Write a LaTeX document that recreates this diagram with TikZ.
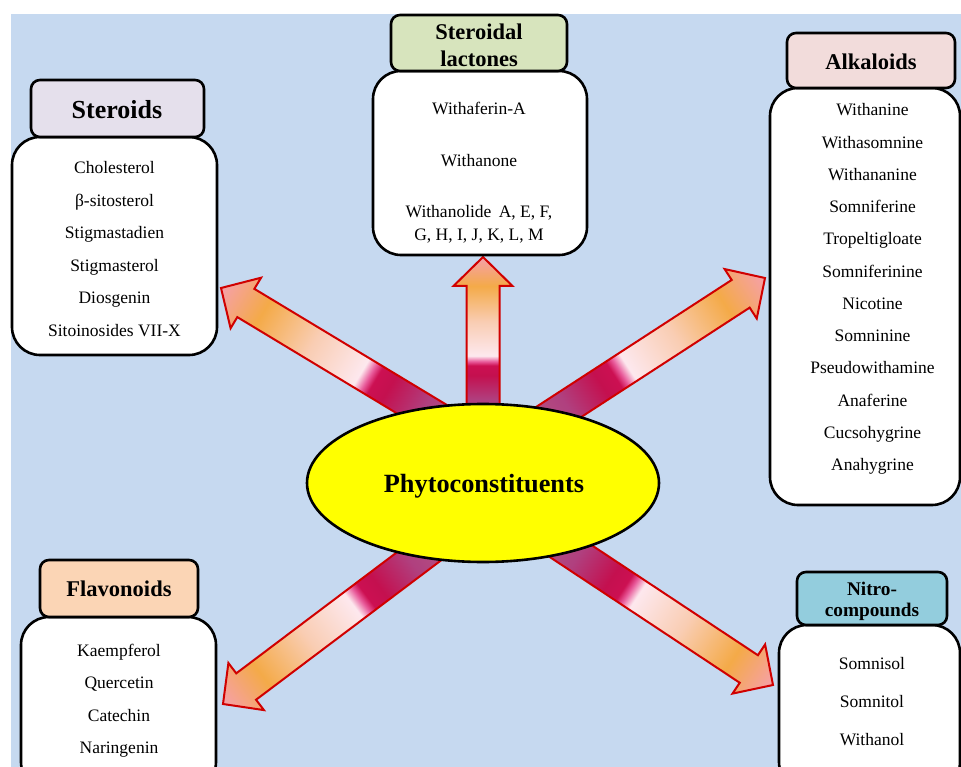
\documentclass[tikz,border=0pt]{standalone}
\usepackage{fontspec}
\setmainfont{Liberation Serif}
\usetikzlibrary{shapes.geometric}
\definecolor{bgblue}{HTML}{C6D9F0}
\definecolor{hdlav}{HTML}{E5E0EC}
\definecolor{hdgreen}{HTML}{D7E4BD}
\definecolor{hdpink}{HTML}{F2DCDB}
\definecolor{hdpeach}{HTML}{FBD5B5}
\definecolor{hdaqua}{HTML}{93CDDD}
\definecolor{ellyellow}{RGB}{255,255,0}
\definecolor{arrowred}{RGB}{208,0,0}
\definecolor{gpurple}{RGB}{178,80,130}
\definecolor{gpurple2}{RGB}{176,64,127}
\definecolor{gcrimson}{RGB}{196,16,79}
\definecolor{gcrimsonb}{RGB}{204,16,82}
\definecolor{gmagenta}{RGB}{232,90,154}
\definecolor{gwhite}{RGB}{253,232,238}
\definecolor{gpeach}{RGB}{249,205,179}
\definecolor{gorange}{RGB}{244,170,72}
\definecolor{gpink}{RGB}{245,160,170}
\pgfdeclarehorizontalshading{arrowgrad}{100bp}{color(0bp)=(gpurple); color(25bp)=(gpurple); color(31bp)=(gpurple2); color(38.5bp)=(gcrimson); color(41.5bp)=(gcrimsonb); color(42.75bp)=(gmagenta); color(44.5bp)=(gwhite); color(55bp)=(gpeach); color(66bp)=(gorange); color(75bp)=(gpink); color(100bp)=(gpink)}
\newcommand\blockarrow[3]{%
  \begin{scope}[transform canvas={shift={(#1)},rotate=#2}]
    \shadedraw[arrowstyle] (-#3pt,-16.5pt) -- (-29pt,-16.5pt) -- (-29pt,-29.5pt) -- (0pt,0pt)
      -- (-29pt,29.5pt) -- (-29pt,16.5pt) -- (-#3pt,16.5pt) -- cycle;
  \end{scope}}
\tikzset{
  bodybox/.style={draw=black, line width=2.6pt, fill=white, rounded corners=28pt, rectangle, inner sep=0pt},
  headbox/.style={draw=black, line width=2.6pt, rounded corners=9pt, rectangle, inner sep=0pt},
  headtext/.style={font=\bfseries\fontsize{22.5}{24}\selectfont, anchor=base, inner sep=0pt},
  itemtext/.style={font=\fontsize{17.5}{20}\selectfont, anchor=base, inner sep=0pt},
  arrowstyle/.style={draw=arrowred, line width=2pt, shading=arrowgrad, line join=miter}
}
\begin{document}
\begin{tikzpicture}[x=1pt,y=-1pt]
\useasboundingbox (0,0) rectangle (961,767);
\clip (0,0) rectangle (961,767);
\fill[white] (0,0) rectangle (961,767);
\fill[bgblue] (11,14) rectangle (961,767);

% arrow tips
\coordinate (tipU) at (483,257);
\coordinate (tipUL) at (221,288);
\coordinate (tipUR) at (765,278);
\coordinate (tipLL) at (223,704);
\coordinate (tipLR) at (773,685);
\blockarrow{tipU}{90}{162}
\blockarrow{tipUL}{148.9}{268}
\blockarrow{tipUR}{33}{268}
\blockarrow{tipLL}{217}{268}
\blockarrow{tipLR}{-33.5}{266}

% centre
\node[ellipse, draw=black, line width=2.6pt, fill=ellyellow, minimum width=352, minimum height=158, inner sep=0pt] (phyto) at (483,483) {};
\node[font=\bfseries\fontsize{26.3}{28}\selectfont, anchor=base, inner sep=0pt] (phytotext) at (484,492) {Phytoconstituents};

% Steroids
\node[bodybox, minimum width=205, minimum height=218] (stbody) at (114.5,246) {};
\node[headbox, fill=hdlav, minimum width=173, minimum height=57] (sthead) at (117.5,108.5) {};
\node[headtext, font=\bfseries\fontsize{26}{28}\selectfont] (sttext) at (117,119) {Steroids};
\foreach \t [count=\i from 0] in {Cholesterol,β-sitosterol,Stigmastadien,Stigmasterol,Diosgenin,Sitoinosides VII-X}
  \node[itemtext] (st\i) at (114.5,{174+32.4*\i}) {\t};

% Steroidal lactones
\node[bodybox, minimum width=214, minimum height=184] (lcbody) at (480,163) {};
\node[headbox, fill=hdgreen, minimum width=176, minimum height=56] (lchead) at (479,43) {};
\node[headtext] (lctext1) at (479,39.5) {Steroidal};
\node[headtext] (lctext2) at (479,67) {lactones};
\node[itemtext] (lc1) at (479,115) {Withaferin-A};
\node[itemtext] (lc2) at (479,166.5) {Withanone};
\node[itemtext] (lc3) at (479,218) {Withanolide\, A, E, F,};
\node[itemtext] (lc4) at (479,241) {G, H, I, J, K, L, M};

% Alkaloids
\node[bodybox, minimum width=190, minimum height=417] (akbody) at (865,296.5) {};
\node[headbox, fill=hdpink, minimum width=168, minimum height=55] (akhead) at (871,60.5) {};
\node[headtext] (aktext) at (871,70) {Alkaloids};
\foreach \t [count=\i from 0] in {Withanine,Withasomnine,Withananine,Somniferine,Tropeltigloate,Somniferinine,Nicotine,Somninine,Pseudowithamine,Anaferine,Cucsohygrine,Anahygrine}
  \node[itemtext] (ak\i) at (872.5,{116+32.24*\i}) {\t};

% Flavonoids
\node[bodybox, minimum width=195, minimum height=173] (flbody) at (118.5,703.5) {};
\node[headbox, fill=hdpeach, minimum width=158, minimum height=57] (flhead) at (119,588.5) {};
\node[headtext] (fltext) at (119,596.5) {Flavonoids};
\foreach \t [count=\i from 0] in {Kaempferol,Quercetin,Catechin,Naringenin}
  \node[itemtext] (fl\i) at (119,{656.5+32.4*\i}) {\t};

% Nitro-compounds
\node[bodybox, minimum width=181, minimum height=165] (nibody) at (869.5,707.5) {};
\node[headbox, fill=hdaqua, minimum width=150, minimum height=53] (nihead) at (872,598.5) {};
\node[headtext, font=\bfseries\fontsize{19.3}{21}\selectfont] (nitext1) at (872,595) {Nitro-};
\node[headtext, font=\bfseries\fontsize{19.3}{21}\selectfont] (nitext2) at (872,616) {compounds};
\foreach \t [count=\i from 0] in {Somnisol,Somnitol,Withanol}
  \node[itemtext] (ni\i) at (872,{669+38*\i}) {\t};
\end{tikzpicture}
\end{document}
